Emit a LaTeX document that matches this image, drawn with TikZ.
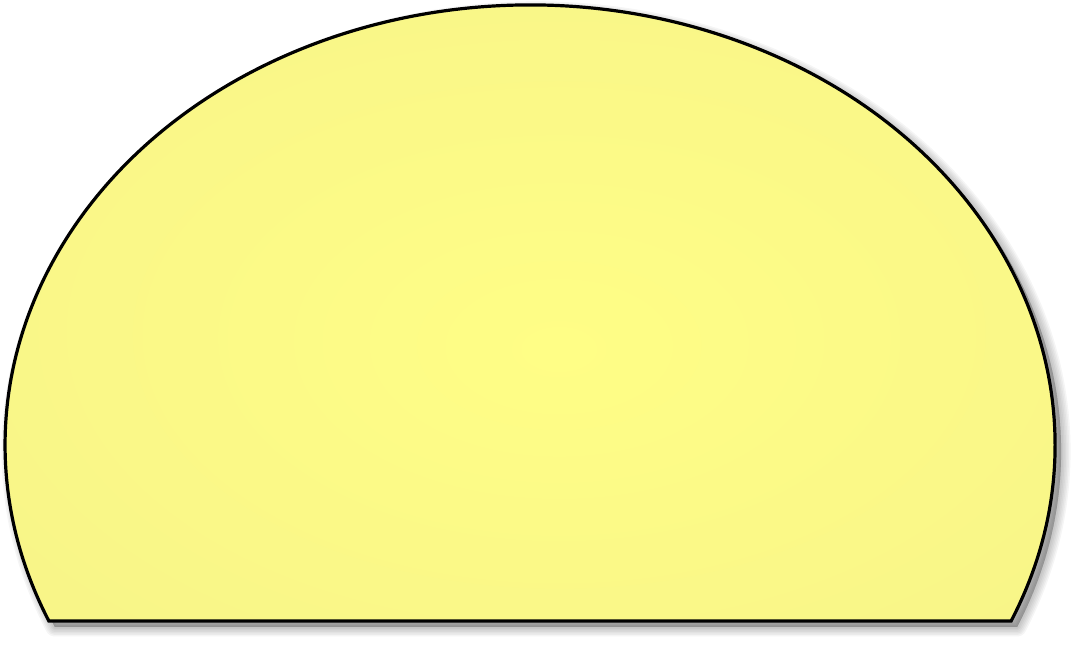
\documentclass[tikz,border=0pt]{standalone}
\usetikzlibrary{calc}

\definecolor{segInner}{HTML}{FFFE86}
\definecolor{segOuter}{HTML}{F3EF8A}
\pgfdeclareradialshading{segglow}{\pgfpoint{0bp}{-5bp}}{%
  color(0bp)=(segInner); color(50bp)=(segOuter); color(80bp)=(segOuter)}

\tikzset{
  segment/.style={line width=3.2pt, draw=black, line join=miter, shading=segglow},
  segshadow/.style={fill=black, draw=black, opacity=0.04, line join=round}
}

\begin{document}
\begin{tikzpicture}[x=1pt,y=1pt]
  \useasboundingbox (0,0) rectangle (1082,645);
  \coordinate (centre) at (530,200);
  \coordinate (chord right) at ($(centre)+(-23.58:525 and 440)$);
  % soft shadow
  \foreach \w in {1,4,7,10,13,16,19} {
    \path[segshadow, line width=\w pt]
      ($(chord right)+(6,-6)$) arc[start angle=-23.58, end angle=203.58, x radius=525, y radius=440] -- cycle;
  }
  % the segment
  \path[segment]
    (chord right) arc[start angle=-23.58, end angle=203.58, x radius=525, y radius=440] -- cycle;
\end{tikzpicture}
\end{document}
